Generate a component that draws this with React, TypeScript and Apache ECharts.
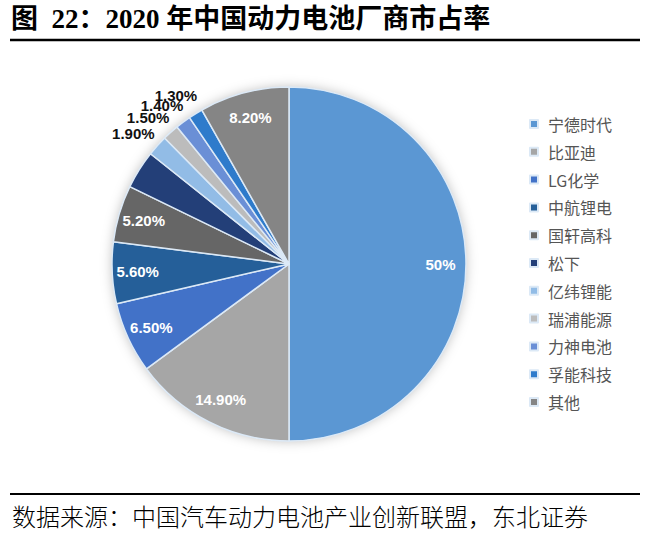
import React, { useEffect, useRef } from "react";
import * as echarts from "echarts";

const categories = ["宁德时代", "比亚迪", "LG化学", "中航锂电", "国轩高科", "松下", "亿纬锂能", "瑞浦能源", "力神电池", "孚能科技", "其他"];
const shares = [50, 14.9, 6.5, 5.6, 5.2, 3.5, 1.9, 1.5, 1.4, 1.3, 8.2];
const shareLabels = ["50%", "14.90%", "6.50%", "5.60%", "5.20%", "", "1.90%", "1.50%", "1.40%", "1.30%", "8.20%"];
const outsideLabel = [false, false, false, false, false, false, true, true, true, true, false];
const colors = ["#5b97d3", "#a6a6a6", "#4272c8", "#255f99", "#666666", "#233f78", "#92bce6", "#bcbcbc", "#6a8fd6", "#2e7bcb", "#858585"];

const titleText = "图  22：2020 年中国动力电池厂商市占率";
const sourceText = "数据来源：中国汽车动力电池产业创新联盟，东北证券";

export default function App() {
  const ref = useRef<HTMLDivElement>(null);
  useEffect(() => {
    if (!ref.current) return;
    const chart = echarts.init(ref.current, null, { renderer: "svg" });
    const center = [289, 264];
    const R = 177;
    const sans = '"Liberation Sans", Arial, sans-serif';
    const outerSeries = (name: string, parity: number, z: number) => ({
      type: "pie",
      name,
      silent: true,
      center,
      radius: [190, 210],
      startAngle: 92,
      clockwise: true,
      z,
      avoidLabelOverlap: false,
      labelLayout: { hideOverlap: false },
      itemStyle: { color: "transparent" },
      labelLine: { show: false },
      data: categories.map((c, i) => ({
        name: c + " ".repeat(z),
        value: shares[i],
        label: {
          show: outsideLabel[i] && i % 2 === parity,
          position: "inside",
          formatter: shareLabels[i],
          color: "#111111",
          fontSize: 15,
          fontWeight: "bold",
          fontFamily: sans,
        },
      })),
    });
    chart.setOption({
      animation: false,
      legend: {
        orient: "vertical",
        left: 529,
        top: 114,
        padding: 0,
        icon: "rect",
        itemWidth: 8,
        itemHeight: 8,
        itemGap: 7.8,
        data: categories,
        textStyle: {
          fontSize: 16,
          lineHeight: 20,
          color: "#555555",
          fontFamily: '"Noto Sans CJK SC", sans-serif',
          padding: [0, 0, 0, 5],
        },
      },
      graphic: [
        {
          type: "text",
          left: 11,
          top: 5,
          style: {
            text: titleText,
            fontSize: 27,
            fontWeight: "bold",
            fill: "#000",
            fontFamily: '"Liberation Serif", "Noto Sans CJK SC", serif',
          },
        },
        {
          type: "line",
          shape: { x1: 10, y1: 40, x2: 640, y2: 40 },
          style: { stroke: "#000", lineWidth: 2.5 },
        },
        {
          type: "line",
          shape: { x1: 10, y1: 494, x2: 640, y2: 494 },
          style: { stroke: "#000", lineWidth: 2 },
        },
        {
          type: "text",
          left: 12,
          top: 503,
          style: {
            text: sourceText,
            fontSize: 24,
            fontWeight: 300,
            fill: "#000",
            fontFamily: '"Noto Sans CJK SC", serif',
          },
        },
      ],
      series: [
        {
          type: "pie",
          name: "bg",
          silent: true,
          center,
          radius: R,
          z: 1,
          label: { show: false },
          itemStyle: {
            color: "#ffffff",
            shadowBlur: 12,
            shadowColor: "rgba(0,0,0,0.25)",
          },
          data: [{ name: "__bg", value: 1 }],
        },
        {
          type: "pie",
          name: "share",
          center,
          radius: R,
          startAngle: 90,
          clockwise: true,
          z: 2,
          label: { show: false },
          labelLine: { show: false },
          itemStyle: { borderColor: "#dce9f6", borderWidth: 1.5 },
          data: categories.map((c, i) => ({ name: c, value: shares[i], itemStyle: { color: colors[i] } })),
        },
        {
          type: "pie",
          name: "innerLabels",
          silent: true,
          center,
          radius: [120, R],
          startAngle: 90,
          clockwise: true,
          z: 3,
          avoidLabelOverlap: false,
          itemStyle: { color: "transparent" },
          labelLine: { show: false },
          data: categories.map((c, i) => ({
            name: c + " ",
            value: shares[i],
            label: {
              show: !outsideLabel[i] && shareLabels[i] !== "",
              position: "inside",
              formatter: shareLabels[i],
              color: "#ffffff",
              fontSize: 15,
              fontWeight: "bold",
              fontFamily: sans,
            },
          })),
        },
        outerSeries("outerLabelsA", 0, 4),
        outerSeries("outerLabelsB", 1, 5),
      ],
    });
    return () => chart.dispose();
  }, []);
  return (
    <div
      ref={ref}
      style={{ position: "absolute", left: 0, top: 0, width: 645, height: 534, background: "#fff" }}
    />
  );
}
